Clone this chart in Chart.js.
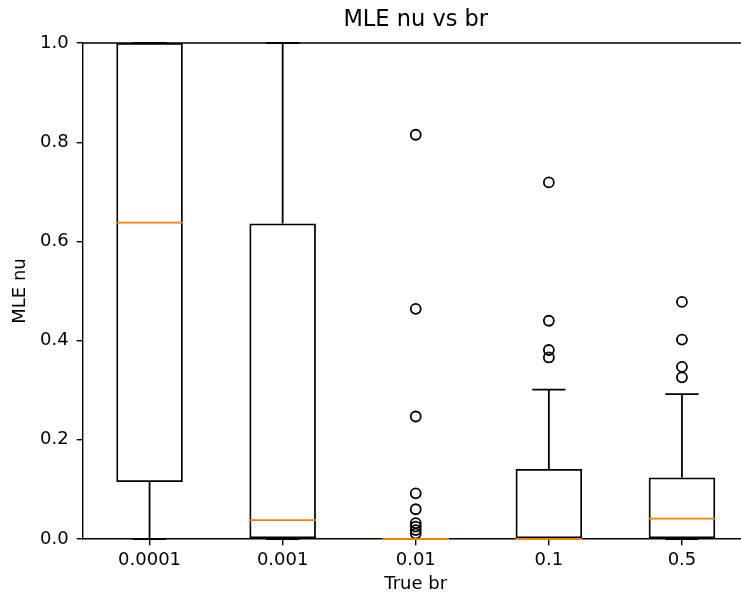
<!DOCTYPE html>
<html>
<head>
<meta charset="utf-8">
<script src="https://cdn.jsdelivr.net/npm/chart.js@4"></script>
<style>
  html, body { margin: 0; padding: 0; background: #fff; overflow: hidden; }
  #wrap { width: 832px; height: 600px; }
</style>
</head>
<body>
<div id="wrap"><canvas id="boxChart" width="832" height="600"></canvas></div>
<script>
const categories = ["0.0001", "0.001", "0.01", "0.1", "0.5"];
const q1 = [0.115, 0, 0, 0, 0];
const medians = [0.638, 0.038, 0, 0, 0.041];
const q3 = [1.0, 0.636, 0, 0.141, 0.124];
const whiskerLow = [0, 0, 0, 0, 0];
const whiskerHigh = [1.0, 1.0, 0, 0.301, 0.292];
const outliers = [
  [],
  [],
  [0.815, 0.464, 0.247, 0.092, 0.060, 0.032, 0.025, 0.018, 0.011],
  [0.719, 0.440, 0.381, 0.366],
  [0.478, 0.402, 0.347, 0.326],
];
const yTicks = [0, 0.2, 0.4, 0.6, 0.8, 1.0];

const boxData = categories.map((c, i) => ({ x: i + 1, y: [q1[i], q3[i]] }));
const flierData = [];
outliers.forEach((vals, i) => vals.forEach(v => flierData.push({ x: i + 1, y: v })));

const LW = 1.8;

// whiskers, caps, medians and the top/right frame
const boxExtras = {
  id: "boxExtras",
  afterLayout(chart) {
    // center the title over the plot area, like matplotlib
    const t = chart.titleBlock;
    if (t) {
      t.left = chart.chartArea.left;
      t.right = chart.chartArea.right;
    }
  },
  afterDatasetsDraw(chart) {
    const { ctx, chartArea, scales: { x, y } } = chart;
    ctx.save();
    ctx.beginPath();
    ctx.rect(chartArea.left, chartArea.top - 1, chartArea.right - chartArea.left, chartArea.bottom - chartArea.top + 2);
    ctx.clip();
    ctx.lineWidth = LW;
    categories.forEach((c, i) => {
      const cx = x.getPixelForValue(i + 1);
      const capL = x.getPixelForValue(i + 1 - 0.125);
      const capR = x.getPixelForValue(i + 1 + 0.125);
      ctx.strokeStyle = "#000";
      ctx.beginPath();
      ctx.moveTo(cx, y.getPixelForValue(q1[i]));
      ctx.lineTo(cx, y.getPixelForValue(whiskerLow[i]));
      ctx.moveTo(cx, y.getPixelForValue(q3[i]));
      ctx.lineTo(cx, y.getPixelForValue(whiskerHigh[i]));
      ctx.moveTo(capL, y.getPixelForValue(whiskerLow[i]));
      ctx.lineTo(capR, y.getPixelForValue(whiskerLow[i]));
      ctx.moveTo(capL, y.getPixelForValue(whiskerHigh[i]));
      ctx.lineTo(capR, y.getPixelForValue(whiskerHigh[i]));
      ctx.stroke();
      ctx.strokeStyle = "#ff7f0e";
      ctx.beginPath();
      ctx.moveTo(x.getPixelForValue(i + 0.75), y.getPixelForValue(medians[i]));
      ctx.lineTo(x.getPixelForValue(i + 1.25), y.getPixelForValue(medians[i]));
      ctx.stroke();
    });
    ctx.restore();
    ctx.save();
    ctx.strokeStyle = "#000";
    ctx.lineWidth = 1.4;
    ctx.beginPath();
    ctx.moveTo(chartArea.left, chartArea.top);
    ctx.lineTo(chartArea.right, chartArea.top);
    ctx.lineTo(chartArea.right, chartArea.bottom);
    ctx.stroke();
    ctx.restore();
  },
};

Chart.defaults.color = "#000";
Chart.defaults.font.family = "'DejaVu Sans', sans-serif";
Chart.defaults.font.size = 18;

const ctx = document.getElementById("boxChart").getContext("2d");
const boxChart = new Chart(ctx, {
  type: "bar",
  data: {
    datasets: [
      {
        label: "boxes",
        data: boxData,
        backgroundColor: "rgba(255,255,255,0)",
        borderColor: "#000",
        borderWidth: LW,
        borderSkipped: false,
        barPercentage: 0.5,
        categoryPercentage: 1.0,
        order: 2,
      },
      {
        type: "scatter",
        label: "fliers",
        data: flierData,
        pointStyle: "circle",
        pointRadius: 5,
        pointBorderWidth: LW,
        pointBorderColor: "#000",
        pointBackgroundColor: "rgba(255,255,255,0)",
        order: 1,
      },
    ],
  },
  options: {
    responsive: false,
    animation: false,
    layout: { padding: { left: 0, right: 83.5, top: 0, bottom: 0 } },
    plugins: {
      legend: { display: false },
      tooltip: { enabled: false },
      title: {
        display: true,
        text: "MLE nu vs br",
        font: { size: 22.5, weight: "normal" },
        padding: { top: 7, bottom: 9 },
      },
    },
    scales: {
      x: {
        type: "linear",
        offset: false,
        min: 0.5,
        max: 5.5,
        afterBuildTicks: (scale) => {
          scale.ticks = categories.map((c, i) => ({ value: i + 1 }));
        },
        afterFit: (scale) => { scale.height = 61; },
        ticks: {
          padding: 4,
          maxRotation: 0,
          callback: (v) => categories[v - 1],
        },
        grid: { offset: false, drawOnChartArea: false, drawTicks: true, tickLength: 6.3, color: "#000", lineWidth: 1.4 },
        border: { display: true, color: "#000", width: 1.4 },
        title: { display: true, text: "True br", padding: { top: 0, bottom: 5 } },
      },
      y: {
        min: 0,
        max: 1,
        afterBuildTicks: (scale) => {
          scale.ticks = yTicks.map(v => ({ value: v }));
        },
        afterFit: (scale) => { scale.width = 83; },
        ticks: {
          padding: 8,
          callback: (v) => v.toFixed(1),
        },
        grid: { drawOnChartArea: false, drawTicks: true, tickLength: 6.3, color: "#000", lineWidth: 1.4 },
        border: { display: true, color: "#000", width: 1.4 },
        title: { display: true, text: "MLE nu", padding: { top: 10, bottom: 0 } },
      },
    },
  },
  plugins: [boxExtras],
});
</script>
</body>
</html>
